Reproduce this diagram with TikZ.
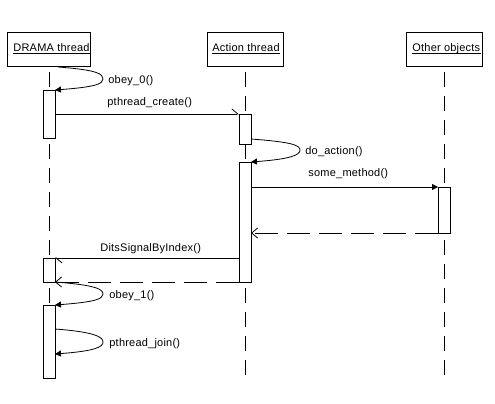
\documentclass[tikz,border=0pt]{standalone}
\usepackage{fontspec}
\setmainfont{Liberation Sans}[LetterSpace=2]
\usetikzlibrary{arrows.meta}
\begin{document}
\begin{tikzpicture}[x=1pt,y=-1pt, line width=0.8pt,
  every node/.style={font=\fontsize{11}{13}\selectfont},
  head/.style={draw, minimum width=76pt, minimum height=34pt, inner sep=0pt, outer sep=0pt},
  actbar/.style={draw, fill=white, minimum width=12pt, inner sep=0pt, outer sep=0pt},
  life/.style={dash pattern=on 15pt off 9pt, dash phase=18pt},
  ret/.style={dash pattern=on 23pt off 9pt, -{Straight Barb[length=6pt,width=10pt]}},
  sync/.style={-{Triangle[length=6pt,width=6pt]}},
  async/.style={-{Straight Barb[harpoon,length=6pt,width=10pt]}},
  lbl/.style={anchor=base west, inner sep=0pt},
  uline/.style={line width=1pt}]
\useasboundingbox (0,0) rectangle (495,404);
% headers
\node[head, minimum width=83pt] (dh) at (49,49) {};
\node[head] (ah) at (245,49) {};
\node[head] (oh) at (444,49) {};
\begin{scope}
  \clip (dh.south west) rectangle (dh.north east);
  \node[lbl] (dt) at (13,52) {DRAMA thread};
  \draw[uline] ([yshift=-2pt]dt.base west) -- ([yshift=-2pt]dt.base east);
\end{scope}
\begin{scope}
  \clip (ah.south west) rectangle (ah.north east);
  \node[lbl] (at) at (212,52) {Action thread};
  \draw[uline] ([yshift=-2pt]at.base west) -- ([yshift=-2pt]at.base east);
\end{scope}
\begin{scope}
  \clip (oh.south west) rectangle (oh.north east);
  \node[lbl] (ot) at (412,52) {Other objects};
  \draw[uline] ([yshift=-2pt]ot.base west) -- ([yshift=-2pt]ot.base east);
\end{scope}
% lifelines
\coordinate (de) at (49,378);
\coordinate (ae) at (245,380);
\coordinate (oe) at (444,378);
\draw[life] (dh.south) -- (de);
\draw[life] (ah.south) -- (ae);
\draw[life] (oh.south) -- (oe);
% activation bars
\node[actbar, minimum height=48pt] (d1) at (49,114) {};
\node[actbar, minimum height=30pt] (a1) at (245,129) {};
\node[actbar, minimum height=120pt] (a2) at (245,222) {};
\node[actbar, minimum height=46pt] (o1) at (444,210) {};
\node[actbar, minimum height=24pt] (d2) at (49,270) {};
\node[actbar, minimum height=73pt] (d3) at (49,341.5) {};
% self messages
\coordinate (s0) at (58,67);
\coordinate (t0) at (103,79);
\draw[sync] (s0) .. controls +(40,3) and +(0,-5) .. (t0) .. controls +(0,5) and +(40,-3) .. (d1.north east);
\coordinate (s1) at (251,139);
\coordinate (t1) at (300,150);
\draw[sync] (s1) .. controls +(40,3) and +(0,-5) .. (t1) .. controls +(0,5) and +(40,-3) .. (a2.north east);
\coordinate (t2) at (103,294);
\draw[sync] (d2.south east) .. controls +(40,3) and +(0,-5) .. (t2) .. controls +(0,5) and +(40,-3) .. (d3.north east);
\coordinate (s3) at (55,329);
\coordinate (t3) at (103,342);
\coordinate (e3) at (55,354);
\draw[sync] (s3) .. controls +(40,3) and +(0,-5) .. (t3) .. controls +(0,5) and +(40,-3) .. (e3);
% messages
\draw[async] (d1.east |- a1.north) -- (a1.north west);
\draw[sync] (a2.east |- o1.north) -- (o1.north west);
\draw[ret] (o1.south west) -- (a2.east |- o1.south);
\draw[async] (a2.west |- d2.north) -- (d2.north east);
\draw[ret] (a2.south west) -- (d2.south east);
% labels
\node[lbl] (l1) at (108,83) {obey\_0()};
\node[lbl] (l2) at (107,105) {pthread\_create()};
\node[lbl] (l3) at (305,154) {do\_action()};
\node[lbl] (l4) at (308,176) {some\_method()};
\node[lbl] (l5) at (100,251) {DitsSignalByIndex()};
\node[lbl] (l6) at (109,298) {obey\_1()};
\node[lbl] (l7) at (109,346) {pthread\_join()};
\end{tikzpicture}
\end{document}
